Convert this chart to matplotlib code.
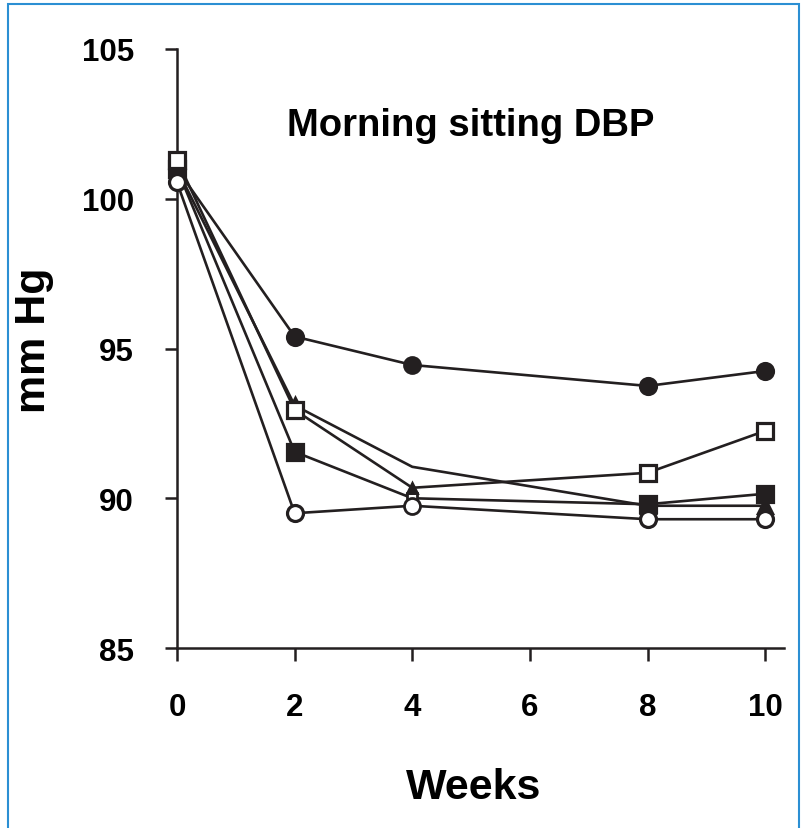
import matplotlib
matplotlib.use('Agg')
import matplotlib.pyplot as plt
from matplotlib.patches import Rectangle

plt.rcParams['font.family'] = ['Liberation Sans', 'DejaVu Sans']
plt.rcParams['font.weight'] = 'bold'

# data (mm Hg)
weeks = [0, 2, 4, 8, 10]
closed_circle = [101.0, 95.4, 94.45, 93.75, 94.25]
open_square = [101.3, 92.95, 90.35, 90.85, 92.25]
closed_square = [101.0, 91.55, 90.0, 89.8, 90.15]
closed_triangle = [101.0, 93.1, 91.05, 89.75, 89.75]
open_circle = [100.55, 89.5, 89.75, 89.3, 89.3]

x_ticks = [0, 2, 4, 6, 8, 10]
y_ticks = [85, 90, 95, 100, 105]

INK = '#231f20'

fig = plt.figure(figsize=(8.06, 8.29), dpi=100)
ax = fig.add_axes([0.2196, 0.2171, 0.7531, 0.7226])

# line + markers, drawn back to front
# (series, marker, face, size, zorder, week-4 marker override)
series = [
    (closed_triangle, '^', INK, 10.5, 3, None),
    (closed_square, 's', INK, 11, 3, ('s', 'white', 7)),
    (closed_circle, 'o', INK, 11.5, 3, ('o', INK, 11.5)),
    (open_square, 's', 'white', 11.5, 4, ('^', INK, 7)),
    (open_circle, 'o', 'white', 11.5, 5, ('o', 'white', 11.5)),
]
for vals, mk, face, ms, z, w4 in series:
    ax.plot(weeks, vals, color=INK, lw=1.9, marker=mk, markersize=ms,
            markerfacecolor=face, markeredgecolor=INK, markeredgewidth=2.3,
            markevery=[0, 1, 3, 4], zorder=z, clip_on=False)
    if w4 is not None:
        ax.plot(weeks[2], vals[2], linestyle='none', marker=w4[0], markersize=w4[2],
                markerfacecolor=w4[1], markeredgecolor=INK, markeredgewidth=2,
                zorder=z + 0.5, clip_on=False)

ax.set_xlim(0, 10.32)
ax.set_ylim(85, 105)
ax.set_xticks(x_ticks)
ax.set_yticks(y_ticks)

for side in ['top', 'right']:
    ax.spines[side].set_visible(False)
for side in ['left', 'bottom']:
    ax.spines[side].set_linewidth(1.8)
    ax.spines[side].set_color(INK)

ax.tick_params(axis='both', direction='out', length=9, width=1.8, color=INK,
               labelsize=22.5, labelcolor='black')
ax.tick_params(axis='y', pad=22)
ax.tick_params(axis='x', pad=23)
for lbl in ax.get_xticklabels() + ax.get_yticklabels():
    lbl.set_fontweight('bold')

ax.set_ylabel('mm Hg', fontsize=31, fontweight='bold', va='center')
ax.yaxis.set_label_coords(-0.236, 0.516)
ax.set_xlabel('Weeks', fontsize=31, fontweight='bold', va='center')
ax.xaxis.set_label_coords(0.488, -0.232)

ax.text(5.0, 102.45, 'Morning sitting DBP', ha='center', va='center',
        fontsize=27.5, fontweight='bold', color='black')

# blue frame around the panel
fig.patches.append(Rectangle((8 / 806, -0.05), 791 / 806, 1.05 - 5 / 829,
                             transform=fig.transFigure, fill=False,
                             edgecolor='#2b8fd3', linewidth=1.5))

fig.savefig('out.png', dpi=100)
